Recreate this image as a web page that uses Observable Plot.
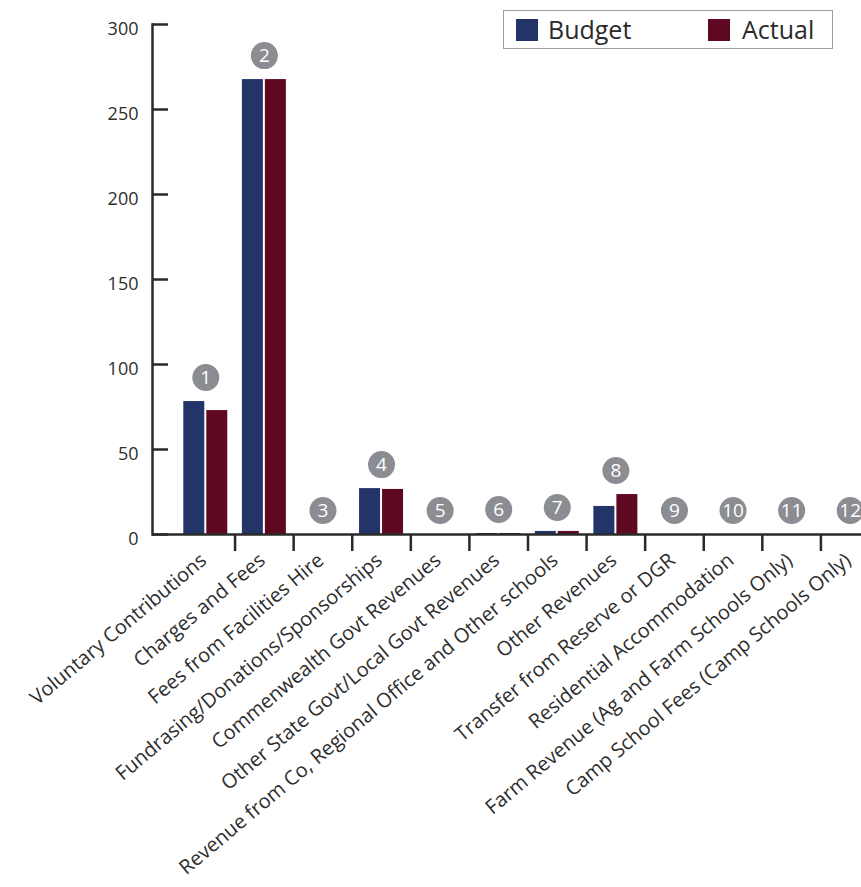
<!DOCTYPE html>
<html>
<head>
<meta charset="utf-8">
<script src="https://cdn.jsdelivr.net/npm/d3@7"></script>
<script src="https://cdn.jsdelivr.net/npm/@observablehq/plot@0.6"></script>
<style>
  body { margin: 0; background: #fff; }
  #wrap { position: relative; width: 861px; height: 887px; font-family: "Open Sans", sans-serif; }
  #legend { position: absolute; left: 503px; top: 10px; width: 330px; height: 39px; border: 1.5px solid #a39c9c; background: #fff; box-sizing: border-box; }
  #legend .sw { position: absolute; top: 8px; width: 22px; height: 22px; }
  #legend .lb { position: absolute; top: 2px; font-size: 25px; line-height: 32px; color: #2a2a2a; }
</style>
</head>
<body>
<div id="wrap"></div>
<script>
const categories = [
  "Voluntary Contributions",
  "Charges and Fees",
  "Fees from Facilities Hire",
  "Fundrasing/Donations/Sponsorships",
  "Commenwealth Govt Revenues",
  "Other State Govt/Local Govt Revenues",
  "Revenue from Co, Regional Office and Other schools",
  "Other Revenues",
  "Transfer from Reserve or DGR",
  "Residential Accommodation",
  "Farm Revenue (Ag and Farm Schools Only)",
  "Camp School Fees (Camp Schools Only)"
];
const budget = [78.2, 267.6, 0, 27.0, 0, 0.6, 1.8, 16.5, 0, 0, 0, 0];
const actual = [72.9, 267.6, 0, 26.5, 0, 0.6, 1.8, 23.5, 0, 0, 0, 0];
const badges = ["1","2","3","4","5","6","7","8","9","10","11","12"];
const seriesNames = ["Budget", "Actual"];
const seriesColors = ["#233468", "#5e0822"];
const yTicks = [0, 50, 100, 150, 200, 250, 300];

const groups = categories.map((c, i) => ({category: c, badge: badges[i], budget: budget[i], actual: actual[i], top: Math.max(budget[i], actual[i])}));
const budgetRows = groups.map(g => ({category: g.category, value: g.budget}));
const actualRows = groups.map(g => ({category: g.category, value: g.actual}));

const textColor = "#2e2e2e";
const axisColor = "#2a2a2a";

const chart = Plot.plot({
  width: 861,
  height: 887,
  marginLeft: 152,
  marginRight: 0,
  marginTop: 24,
  marginBottom: 353,
  style: {fontFamily: "Open Sans, sans-serif", color: textColor, background: "#fff"},
  x: {type: "band", domain: categories, range: [176, 879], padding: 0, round: false},
  y: {domain: [0, 300]},
  marks: [
    Plot.barY(budgetRows, {x: "category", y: "value", fill: seriesColors[0], insetLeft: 7.3, insetRight: 30.3}),
    Plot.barY(actualRows, {x: "category", y: "value", fill: seriesColors[1], insetLeft: 30.3, insetRight: 7.3}),
    Plot.frame({anchor: "left", stroke: axisColor, strokeWidth: 2.5}),
    Plot.ruleY([0], {stroke: axisColor, strokeWidth: 2.5}),
    Plot.axisY(yTicks, {tickSize: 0, tickPadding: 14, fontSize: 18, dy: 5, label: null, fill: textColor}),
    Plot.axisY(yTicks, {tickSize: 16, dx: 16, tickFormat: () => "", label: null, stroke: axisColor, strokeWidth: 2.5}),
    Plot.axisX(categories.slice(1), {tickSize: 17, dx: -29.3, tickFormat: () => "", label: null, stroke: axisColor, strokeWidth: 2.5}),
    Plot.axisX(categories, {tickSize: 0, tickRotate: -40, tickPadding: 23, dx: -2, fontSize: 20, label: null, fill: textColor}),
    Plot.dot(groups, {x: "category", y: "top", r: 13.5, fill: "#8b8d93", dy: -24}),
    Plot.text(groups, {x: "category", y: "top", text: "badge", fill: "#fff", fontSize: 19, dy: -24})
  ]
});

const wrap = document.getElementById("wrap");
wrap.appendChild(chart);
const legend = document.createElement("div");
legend.id = "legend";
const pos = [[12, 44], [204, 238]];
seriesNames.forEach((name, i) => {
  const sw = document.createElement("div");
  sw.className = "sw";
  sw.style.left = pos[i][0] + "px";
  sw.style.background = seriesColors[i];
  const lb = document.createElement("div");
  lb.className = "lb";
  lb.style.left = pos[i][1] + "px";
  lb.textContent = name;
  legend.appendChild(sw);
  legend.appendChild(lb);
});
wrap.appendChild(legend);
</script>
</body>
</html>
